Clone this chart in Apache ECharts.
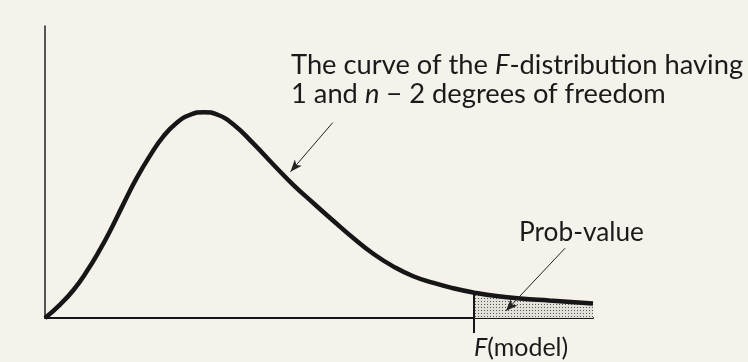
<!DOCTYPE html>
<html><head><meta charset="utf-8">
<script src="https://cdn.jsdelivr.net/npm/echarts@6/dist/echarts.min.js"></script>
<style>html,body{margin:0;padding:0;background:#f4f2ea}#c{width:748px;height:362px}</style>
</head><body><div id="c"></div>
<script>
// ---- data (x: 0..100 along the F axis, y: 0..100 density scale) ----
const curveX = [0, 2.7, 5.2, 7.6, 10.0, 12.2, 14.3, 16.7, 19.2, 21.6, 24.0, 26.5, 29.0, 31.5, 34.4, 38.0, 41.7, 45.3, 49.0, 52.6, 56.3, 59.9, 63.6, 67.2, 70.9, 74.5, 78.3, 82.0, 86.7, 92.0, 100];
const curveY = [0, 4.5, 9.6, 15.9, 23.3, 31.0, 39.0, 47.8, 55.7, 62.2, 66.8, 69.6, 70.5, 69.6, 66.3, 59.8, 52.5, 45.6, 39.3, 33.3, 27.3, 22.0, 17.6, 14.3, 12.0, 10.2, 8.7, 7.6, 6.7, 6.0, 5.0];
const fModel = 78.3;
const tailX = [78.3, 82.0, 86.7, 92.0, 100];
const tailY = [8.7, 7.6, 6.7, 6.0, 5.0];
const xTickLabels = ['{i|F}(model)'];
const curveLabel = ['The curve of the {i|F}-distribution having', '1 and {i|n} \u2212 2 degrees of freedom'];
const probLabel = 'Prob-value';
// arrow anchors in data space: [fromX, fromY, toX, toY]
const curveArrow = [52.5, 66.9, 44.8, 50.1];
const probArrow = [94.9, 23.9, 84.1, 2.4];

const FONT = 'Lato';
function fit(text, target) {
  const c = document.createElement('canvas').getContext('2d');
  c.font = '100px ' + FONT;
  const w = c.measureText(text).width;
  return 100 * target / w;
}
const mainSize = fit('The curve of the F-distribution having', 453);
const probSize = fit('Prob-value', 125);
const fSize = fit('F(model)', 95);

function dots() {
  const c = document.createElement('canvas'); c.width = 3; c.height = 3;
  const g = c.getContext('2d');
  g.fillStyle = '#e2e0d8'; g.fillRect(0, 0, 3, 3);
  g.fillStyle = '#555555'; g.fillRect(1, 1, 1, 1);
  return c;
}

const chart = echarts.init(document.getElementById('c'), null, {renderer: 'canvas'});
const ink = '#161616';
chart.setOption({
  backgroundColor: '#f4f2ea',
  animation: false,
  grid: {left: 45, right: 155, top: 26, bottom: 44},
  xAxis: {
    type: 'value', min: 0, max: 100,
    axisLine: {lineStyle: {color: ink, width: 2}},
    splitLine: {show: false},
    axisTick: {show: true, customValues: [fModel], length: 15, lineStyle: {color: ink, width: 2}},
    axisLabel: {
      customValues: [fModel], formatter: () => xTickLabels[0], align: 'left', margin: 17,
      color: '#1a1a1a', fontFamily: FONT, fontSize: fSize, lineHeight: fSize,
      rich: {i: {fontStyle: 'italic', fontFamily: FONT, fontSize: fSize, color: '#1a1a1a', lineHeight: fSize}}
    }
  },
  yAxis: {
    type: 'value', min: 0, max: 100,
    axisLine: {show: true, lineStyle: {color: '#222', width: 1.5}},
    axisTick: {show: false}, axisLabel: {show: false}, splitLine: {show: false}
  },
  series: [
    {
      type: 'line', data: tailX.map((x, i) => [x, tailY[i]]), smooth: 0.3, symbol: 'none', z: 1,
      lineStyle: {width: 0}, areaStyle: {color: {image: dots(), repeat: 'repeat'}, opacity: 1},
      markLine: {silent: true, symbol: 'none', label: {show: false},
        lineStyle: {color: ink, width: 2, type: 'solid'},
        data: [[{coord: [fModel, 0]}, {coord: [fModel, tailY[0]]}]]}
    },
    {
      type: 'line', data: curveX.map((x, i) => [x, curveY[i]]), smooth: 0.5, symbol: 'none', z: 3,
      lineStyle: {color: ink, width: 4.5}
    },
    {
      type: 'line', data: [], z: 4,
      markLine: {silent: true, symbol: ['none', 'arrow'], symbolSize: [7, 12], label: {show: false},
        lineStyle: {color: '#222', width: 1, type: 'solid'},
        data: [
          [{coord: [curveArrow[0], curveArrow[1]]}, {coord: [curveArrow[2], curveArrow[3]], symbol: 'arrow', symbolSize: [7, 12]}],
          [{coord: [probArrow[0], probArrow[1]]}, {coord: [probArrow[2], probArrow[3]], symbol: 'arrow', symbolSize: [7, 12]}]
        ]}
    }
  ],
  graphic: [
    {type: 'text', x: 291, y: 52, style: {text: curveLabel[0], fontFamily: FONT, fontSize: mainSize, lineHeight: mainSize, fill: '#1a1a1a',
      rich: {i: {fontStyle: 'italic', fontFamily: FONT, fontSize: mainSize, lineHeight: mainSize, fill: '#1a1a1a'}}}},
    {type: 'text', x: 291, y: 81, style: {text: curveLabel[1], fontFamily: FONT, fontSize: mainSize, lineHeight: mainSize, fill: '#1a1a1a',
      rich: {i: {fontStyle: 'italic', fontFamily: FONT, fontSize: mainSize, lineHeight: mainSize, fill: '#1a1a1a'}}}},
    {type: 'text', x: 519, y: 219, style: {text: probLabel, fontFamily: FONT, fontSize: probSize, lineHeight: probSize, fill: '#1a1a1a'}}
  ]
});
</script></body></html>
